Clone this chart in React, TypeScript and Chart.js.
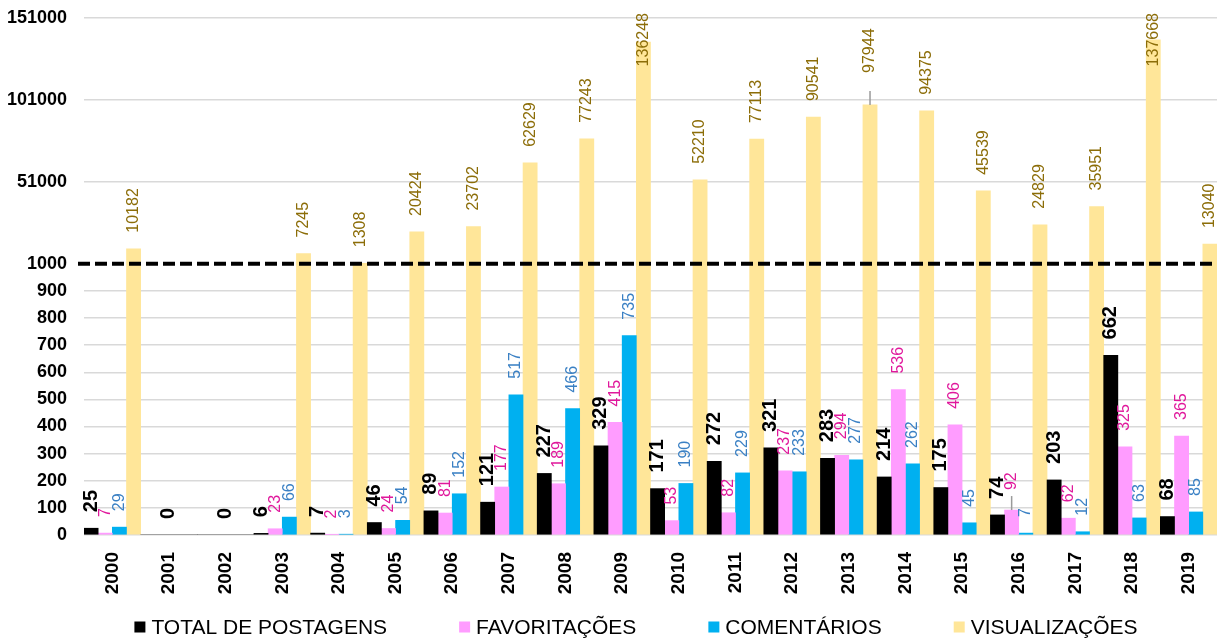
import React, { useEffect, useRef } from "react";
import { Chart, registerables } from "chart.js";

Chart.register(...registerables);

const YEARS = ["2000","2001","2002","2003","2004","2005","2006","2007","2008","2009","2010","2011","2012","2013","2014","2015","2016","2017","2018","2019"];
const TOTAL_POSTAGENS = [25, 0, 0, 6, 7, 46, 89, 121, 227, 329, 171, 272, 321, 283, 214, 175, 74, 203, 662, 68];
const FAVORITACOES = [7, null, null, 23, 2, 24, 81, 177, 189, 415, 53, 82, 237, 294, 536, 406, 92, 62, 325, 365];
const COMENTARIOS = [29, null, null, 66, 3, 54, 152, 517, 466, 735, 190, 229, 233, 277, 262, 45, 7, 12, 63, 85];
const VISUALIZACOES = [10182, null, null, 7245, 1308, 20424, 23702, 62629, 77243, 136248, 52210, 77113, 90541, 97944, 94375, 45539, 24829, 35951, 137668, 13040];
const Y_TICK_VALUES = [0, 100, 200, 300, 400, 500, 600, 700, 800, 900, 1000, 51000, 101000, 151000];
const SERIES_NAMES = ["TOTAL DE POSTAGENS", "FAVORITAÇÕES", "COMENTÁRIOS", "VISUALIZAÇÕES"];

// broken axis: linear up to 1000, then each 50000 occupies SEG units
const BREAK = 1000;
const STEP_HIGH = 50000;
const SEG = 302;
const toScale = (v: number | null) =>
  v == null ? null : v <= BREAK ? v : BREAK + ((v - BREAK) / STEP_HIGH) * SEG;

const FONT = '"Liberation Sans", Arial, sans-serif';

const BAR_COLORS = ["#000000", "#ff9cff", "#00b0f0", "#ffe699"];
const LABEL_COLORS = ["#000000", "#e0189c", "#3a80c4", "#8c6d08"];

const LEADERS = [
  { ds: 3, idx: 13, gap: 32 },
  { ds: 1, idx: 16, gap: 20 },
];

const labelPlugin = {
  id: "valueLabels",
  afterDatasetsDraw(chart: any) {
    const ctx = chart.ctx;
    const yScale = chart.scales.y;
    const yb = yScale.getPixelForValue(BREAK);
    ctx.save();
    ctx.strokeStyle = "#000";
    ctx.lineWidth = 4;
    ctx.setLineDash([12, 5]);
    ctx.beginPath();
    ctx.moveTo(chart.chartArea.left - 6, yb);
    ctx.lineTo(chart.chartArea.right, yb);
    ctx.stroke();
    ctx.restore();

    chart.data.datasets.forEach((ds: any, di: number) => {
      const meta = chart.getDatasetMeta(di);
      meta.data.forEach((el: any, i: number) => {
        const raw = ds.rawValues[i];
        if (raw == null) return;
        const text = String(raw);
        ctx.save();
        ctx.font = di === 0 ? `bold 20px ${FONT}` : `16px ${FONT}`;
        ctx.fillStyle = LABEL_COLORS[di];
        const w = ctx.measureText(text).width;
        const leader = LEADERS.find((l) => l.ds === di && l.idx === i);
        const gap = leader ? leader.gap : 16;
        let yEnd = el.y - gap;
        if (yEnd - w < 13) yEnd = 13 + w;
        if (leader) {
          ctx.strokeStyle = "#9a9a9a";
          ctx.lineWidth = 1.5;
          ctx.beginPath();
          ctx.moveTo(el.x, el.y);
          ctx.lineTo(el.x, el.y - 14);
          ctx.stroke();
        }
        ctx.translate(el.x, yEnd);
        ctx.rotate(-Math.PI / 2);
        ctx.textAlign = "left";
        ctx.textBaseline = "middle";
        ctx.fillText(text, 0, 0);
        ctx.restore();
      });
    });
  },
};

const legendPlugin = {
  id: "customLegend",
  afterDraw(chart: any) {
    const ctx = chart.ctx;
    ctx.save();
    ctx.font = `21px ${FONT}`;
    const box = 11;
    const textGap = 6;
    const itemGap = 72;
    const widths = SERIES_NAMES.map((n) => ctx.measureText(n).width);
    const total = widths.reduce((a, w) => a + box + textGap + w, 0) + itemGap * (SERIES_NAMES.length - 1);
    let x = 636 - total / 2;
    const yc = 627;
    SERIES_NAMES.forEach((n, i) => {
      ctx.fillStyle = BAR_COLORS[i];
      ctx.fillRect(x, yc - box / 2, box, box);
      ctx.fillStyle = "#000";
      ctx.textAlign = "left";
      ctx.textBaseline = "middle";
      ctx.fillText(n, x + box + textGap, yc + 1);
      x += box + textGap + widths[i] + itemGap;
    });
    ctx.restore();
  },
};

export default function App() {
  const ref = useRef<HTMLCanvasElement>(null);
  useEffect(() => {
    if (!ref.current) return;
    const seriesRaw = [TOTAL_POSTAGENS, FAVORITACOES, COMENTARIOS, VISUALIZACOES];
    const chart = new Chart(ref.current, {
      type: "bar",
      data: {
        labels: YEARS,
        datasets: seriesRaw.map((arr, i) => ({
          label: SERIES_NAMES[i],
          data: arr.map((v) => toScale(v)),
          rawValues: arr,
          backgroundColor: BAR_COLORS[i],
          borderWidth: 0,
          categoryPercentage: 1.0,
          barPercentage: 1.0,
        })) as any,
      },
      options: {
        animation: false,
        responsive: false,
        skipNull: true,
        layout: { padding: { top: 18, left: 8, right: 0, bottom: 40 } },
        plugins: { legend: { display: false }, tooltip: { enabled: false } },
        scales: {
          x: {
            grid: { display: false, drawTicks: false },
            border: { display: false },
            ticks: {
              autoSkip: false,
              minRotation: 90,
              maxRotation: 90,
              padding: 17,
              color: "#000",
              font: { family: FONT, size: 19, weight: "bold" },
            },
            afterFit: (s: any) => {
              s.height = 65;
              s.paddingLeft = 0;
              s.paddingRight = 0;
            },
          },
          y: {
            min: 0,
            max: toScale(Y_TICK_VALUES[Y_TICK_VALUES.length - 1]) as number,
            afterBuildTicks: (s: any) => {
              s.ticks = Y_TICK_VALUES.map((v) => ({ value: toScale(v) }));
            },
            grid: {
              drawTicks: false,
              lineWidth: 1.5,
              color: (c: any) => (c.tick && Math.abs(c.tick.value - BREAK) < 0.01 ? "rgba(0,0,0,0)" : "#d9d9d9"),
            },
            border: { display: false },
            ticks: {
              autoSkip: false,
              padding: 17,
              color: "#000",
              font: { family: FONT, size: 18, weight: "bold" },
              callback: (_v: any, idx: number) => String(Y_TICK_VALUES[idx]),
            },
            afterFit: (s: any) => {
              s.width = 76;
              s.paddingTop = 0;
              s.paddingBottom = 0;
            },
          },
        },
      } as any,
      plugins: [labelPlugin, legendPlugin],
    });
    return () => chart.destroy();
  }, []);
  return (
    <div style={{ position: "absolute", left: 0, top: 0, width: 1217, height: 640, background: "#fff" }}>
      <canvas ref={ref} width={1217} height={640} style={{ display: "block" }} />
    </div>
  );
}
